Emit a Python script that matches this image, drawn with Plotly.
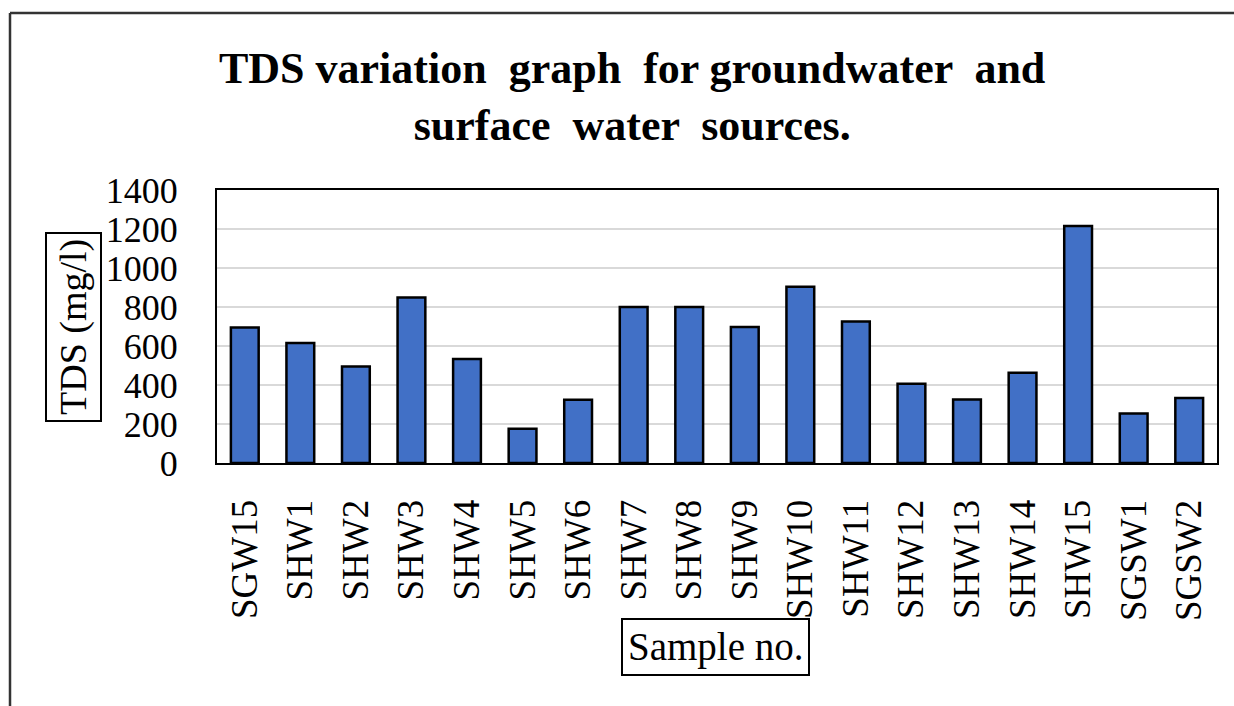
import plotly.graph_objects as go

samples = ["SGW15", "SHW1", "SHW2", "SHW3", "SHW4", "SHW5", "SHW6", "SHW7", "SHW8",
           "SHW9", "SHW10", "SHW11", "SHW12", "SHW13", "SHW14", "SHW15", "SGSW1", "SGSW2"]
tds = [695, 615, 495, 849, 533, 176, 325, 800, 800,
       697, 904, 726, 407, 326, 463, 1215, 254, 333]
y_ticks = [0, 200, 400, 600, 800, 1000, 1200, 1400]

W, H = 1234, 706
L, R, T, B = 217, 1217, 190, 463
pw, ph = R - L, B - T

def px(x):
    return (x - L) / pw

def py(y):
    return (B - y) / ph

serif = "Liberation Serif"

fig = go.Figure(go.Bar(
    x=samples, y=tds,
    marker=dict(color="#4170C6", line=dict(color="black", width=2.5)),
))

fig.update_layout(
    width=W, height=H,
    margin=dict(l=L, r=W - R, t=T, b=H - B),
    paper_bgcolor="white", plot_bgcolor="white",
    bargap=0.5,
    showlegend=False,
    font=dict(family=serif, color="black"),
)

fig.update_xaxes(
    type="category",
    tickangle=-90,
    tickfont=dict(family=serif, size=37, color="black"),
    showline=True, linecolor="black", linewidth=2, mirror=True,
    ticks="", showgrid=False,
    ticklabelstandoff=20,
)
fig.update_yaxes(
    range=[0, 1400],
    tickvals=y_ticks,
    tickfont=dict(family=serif, size=36, color="black"),
    showline=True, linecolor="black", linewidth=2, mirror=True,
    showgrid=True, gridcolor="#d9d9d9", gridwidth=2,
    ticks="", zeroline=False,
    ticklabelstandoff=30,
)

# Title
fig.add_annotation(
    text="TDS variation  graph  for groundwater  and<br>surface  water  sources.",
    xref="paper", yref="paper",
    x=px(632), y=py(97), xanchor="center", yanchor="middle",
    showarrow=False,
    font=dict(family=serif, size=44, color="black", weight="bold"),
)

# Y axis title with box
fig.add_annotation(
    text="TDS (mg/l)",
    xref="paper", yref="paper",
    x=px(73), y=py(327), xanchor="center", yanchor="middle",
    textangle=-90, showarrow=False,
    font=dict(family=serif, size=38, color="black"),
    bordercolor="black", borderwidth=2, borderpad=5, bgcolor="white",
)

# X axis title with box
fig.add_annotation(
    text="Sample no.",
    xref="paper", yref="paper",
    x=px(715), y=py(647), xanchor="center", yanchor="middle",
    showarrow=False,
    font=dict(family=serif, size=39, color="black"),
    bordercolor="black", borderwidth=2, borderpad=5, bgcolor="white",
)

# Outer chart frame (left and top edges visible)
fig.add_shape(type="line", xref="paper", yref="paper",
              x0=px(10), y0=py(H + 5), x1=px(10), y1=py(13),
              line=dict(color="#333333", width=2.5))
fig.add_shape(type="line", xref="paper", yref="paper",
              x0=px(10), y0=py(13), x1=px(W + 5), y1=py(13),
              line=dict(color="#333333", width=2.5))

fig.write_html("out.html")
